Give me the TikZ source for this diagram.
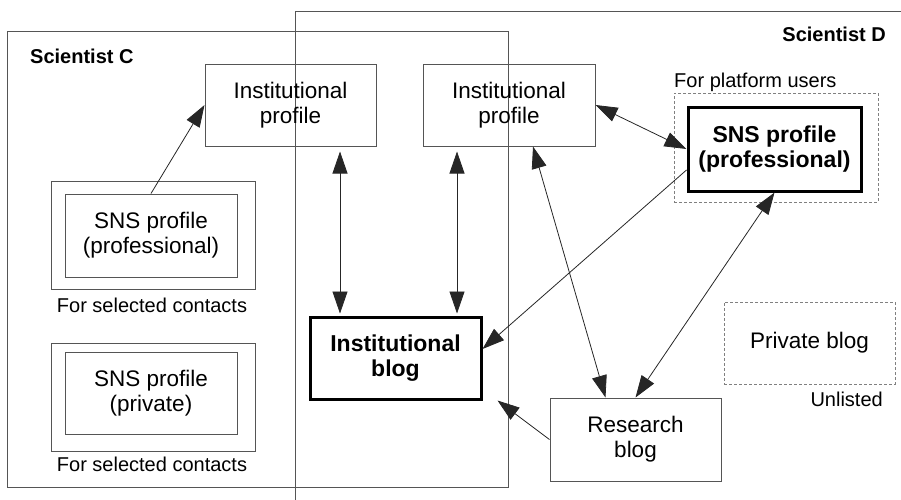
\documentclass[tikz,border=0pt]{standalone}
\usepackage{fontspec}
\setmainfont{Liberation Sans}
\usetikzlibrary{arrows.meta,positioning}
\definecolor{GrisCadre}{HTML}{555555}

\begin{document}
\begin{tikzpicture}
	[x=1pt, y=-1pt,
	bigtip/.tip = {Triangle[length=22pt, width=15pt]},
	box/.style = {shape=rectangle, draw=GrisCadre, line width=1pt, align=center,
		minimum width=171pt, minimum height=82pt, inner sep=0pt,
		font=\fontsize{22.5}{25}\selectfont},
	boldbox/.style = {box, draw=black, line width=3pt,
		font=\fontsize{23}{25}\selectfont\bfseries},
	dashbox/.style = {box, draw=gray, dash pattern=on 3pt off 2pt},
	frame/.style = {shape=rectangle, draw=GrisCadre, line width=1pt, inner sep=0pt},
	lbl/.style = {inner sep=0pt, font=\fontsize{20}{24}\selectfont},
	title/.style = {lbl, font=\fontsize{20}{24}\selectfont\bfseries},
	link/.style = {draw=black!85, line width=0.8pt, -bigtip},
	dbl/.style = {link, bigtip-bigtip}]
	\useasboundingbox (0,0) rectangle (901,499);
	\clip (0,0) rectangle (901,499);
	% the two scientists
	\node[frame, minimum width=501pt, minimum height=456pt] (sciC) at (257.5,259) {};
	\node[frame, anchor=north west, minimum width=620pt, minimum height=520pt] (sciD) at (295,11) {};
	\node[title, anchor=base west] (titC) at (30,63) {Scientist C};
	\node[title, anchor=base east] (titD) at (886,41) {Scientist D};
	% scientist C
	\node[box] (ipC) at (290.5,105) {Institutional\\profile};
	\node[frame, minimum width=204pt, minimum height=108pt] (proOut) at (153,235) {};
	\node[box, minimum width=172pt, minimum height=83pt] (proC) at (151,235.5) {SNS profile\\(professional)};
	\node[lbl, anchor=base] (proLbl) at (152,312) {For selected contacts};
	\node[frame, minimum width=204pt, minimum height=108pt] (privOut) at (153,397) {};
	\node[box, minimum width=172pt] (privC) at (151,393) {SNS profile\\(private)};
	\node[lbl, anchor=base] (privLbl) at (152,471) {For selected contacts};
	% scientist D
	\node[box, minimum width=172pt] (ipD) at (509,105) {Institutional\\profile};
	\node[dashbox, minimum width=204pt, minimum height=109pt] (platf) at (776,147.5) {};
	\node[lbl, anchor=base west] (platfLbl) at (674,87) {For platform users};
	\node[boldbox, minimum width=173pt, minimum height=84pt] (snsD) at (774.5,149) {SNS profile\\(professional)};
	\node[boldbox] (ib) at (395.5,358) {Institutional\\blog};
	\node[box, minimum height=83pt] (rb) at (635.5,439.5) {Research\\blog};
	\node[dashbox] (pb) at (809.5,343) {Private blog};
	\node[lbl, anchor=base east] (pbLbl) at (883,406) {Unlisted};
	% links
	\coordinate (upC) at ([xshift=49.5pt]ipC.south);
	\coordinate (upD) at ([xshift=-52pt]ipD.south);
	\draw[link] (proC.north) -- (ipC.west);
	\draw[dbl, shorten <=5pt, shorten >=2pt] (upC) -- (upC |- ib.north);
	\draw[dbl, shorten <=5pt, shorten >=2pt] (upD) -- (upD |- ib.north);
	\draw[dbl] (ipD.east) -- (snsD.west);
	\draw[link] ([yshift=-21pt]snsD.west) -- ([yshift=9pt]ib.east);
	\draw[dbl] ([xshift=24pt]ipD.south) -- ([xshift=-30pt]rb.north);
	\draw[dbl] (snsD.south) -- (rb.north);
	\draw[link] (rb.west) -- ([xshift=15pt]ib.south east);
\end{tikzpicture}
\end{document}
